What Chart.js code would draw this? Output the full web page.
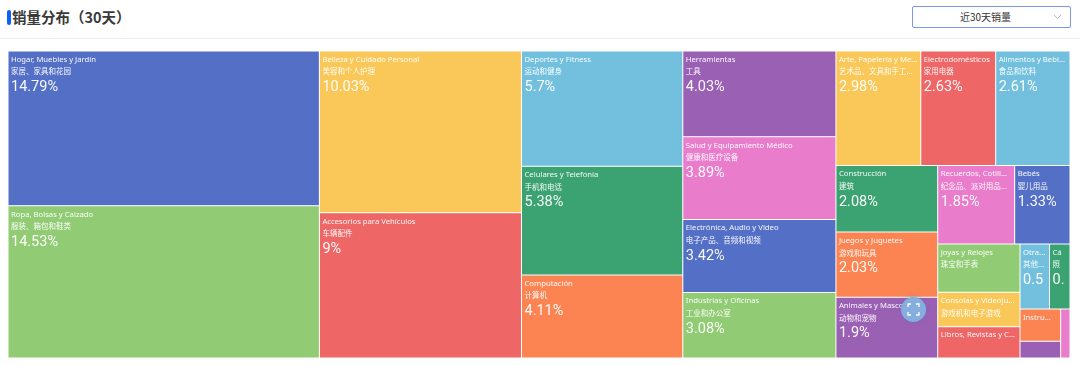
<!DOCTYPE html>
<html lang="zh">
<head>
    <meta charset="UTF-8">
    <title>销量分布</title>
    <script src="https://cdn.jsdelivr.net/npm/chart.js"></script>
    <style>
        body {
            margin: 0;
            background: #fff;
            font-family: 'Noto Sans CJK SC', sans-serif;
            width: 1080px;
            height: 365px;
            overflow: hidden;
            position: relative;
        }
        .mark { position: absolute; left: 7px; top: 10px; width: 4px; height: 15px; background: #0b5fff; border-radius: 2px; }
        .title { position: absolute; left: 12px; top: 6px; font-size: 14.5px; line-height: 22px; font-weight: 700; color: #3a3a3a; }
        .line { position: absolute; left: 0; top: 38px; width: 1080px; height: 1px; background: #eeeeee; }
        .select {
            position: absolute; left: 912px; top: 6px; width: 157px; height: 20px;
            border: 1px solid #7b97e6; border-radius: 2px; text-align: center;
            font-size: 10px; line-height: 20px; color: #333; box-sizing: content-box;
        }
        .select span { position: relative; left: -6px; }
        .select svg { position: absolute; right: 8px; top: 7px; }
        .wrap { position: absolute; left: 8px; top: 51px; width: 1062px; height: 307px; }
        .fullscreen {
            position: absolute; left: 901px; top: 297px; width: 25px; height: 25px;
            border-radius: 50%; background: #85aedf; box-shadow: 0 0 4px rgba(80, 120, 200, .45);
        }
    </style>
</head>
<body>
<div class="mark"></div>
<div class="title">销量分布（30天）</div>
<div class="line"></div>
<div class="select"><span>近30天销量</span>
    <svg width="9" height="6" viewBox="0 0 9 6"><path d="M1 1l3.5 3.5L8 1" fill="none" stroke="#bbb" stroke-width="1"/></svg>
</div>
<div class="wrap"><canvas id="treemap" width="1062" height="307"></canvas></div>
<div class="fullscreen">
    <svg width="25" height="25" viewBox="0 0 25 25" fill="none" stroke="#fff" stroke-width="1.3">
        <path d="M7 10V7h3M15 7h3v3M18 15v3h-3M10 18H7v-3"/>
    </svg>
</div>
<script>
    const categories = [
        'Hogar, Muebles y Jardín', 'Ropa, Bolsas y Calzado', 'Belleza y Cuidado Personal',
        'Accesorios para Vehículos', 'Deportes y Fitness', 'Celulares y Telefonía', 'Computación',
        'Herramientas', 'Salud y Equipamiento Médico', 'Electrónica, Audio y Video',
        'Industrias y Oficinas', 'Arte, Papelería y Mercería', 'Electrodomésticos',
        'Alimentos y Bebidas', 'Construcción', 'Juegos y Juguetes', 'Animales y Mascotas',
        'Recuerdos, Cotillón y Fiestas', 'Bebés', 'Joyas y Relojes', 'Consolas y Videojuegos',
        'Libros, Revistas y Comics', 'Otras categorías', 'Cámaras y Fotografía',
        'Instrumentos Musicales', '', ''
    ];
    const categoriesZh = [
        '家居、家具和花园', '服装、箱包和鞋类', '美容和个人护理', '车辆配件', '运动和健身', '手机和电话', '计算机',
        '工具', '健康和医疗设备', '电子产品、音频和视频', '工业和办公室', '艺术品、文具和手工艺品', '家用电器',
        '食品和饮料', '建筑', '游戏和玩具', '动物和宠物', '纪念品、派对用品和节庆', '婴儿用品', '珠宝和手表',
        '游戏机和电子游戏', '书籍和杂志', '其他类别', '照相机和摄影', '乐器', '', ''
    ];
    const shares = [
        14.79, 14.53, 10.03, 9, 5.7, 5.38, 4.11, 4.03, 3.89, 3.42, 3.08, 2.98, 2.63, 2.61,
        2.08, 2.03, 1.9, 1.85, 1.33, 1.22, 0.87, 0.79, 0.59, 0.41, 0.40, 0.21, 0.14
    ];
    const palette = ['#5470c6', '#91cc75', '#fac858', '#ee6666', '#73c0de', '#3ba272', '#fc8452', '#9a60b4', '#ea7ccc'];

    // squarified layout, works in chart area units, values are already sorted big to small
    function squarify(values, width, height) {
        const total = values.reduce((a, b) => a + b, 0);
        const rect = {x: 0, y: 0, w: width, h: height};
        const unit = width * height / total;
        const ratio = 0.5 * (1 + Math.sqrt(5));
        const cells = [];
        let row = [];
        let best = Infinity;
        let i = 0;

        function worst(items, side) {
            const sum = items.reduce((a, b) => a + b.area, 0);
            const areas = items.map(d => d.area);
            const f = side * side * ratio;
            return Math.max(f * Math.max(...areas) / (sum * sum), sum * sum / (f * Math.min(...areas)));
        }

        function placeRow(items) {
            const sum = items.reduce((a, b) => a + b.area, 0);
            const alongX = rect.w < rect.h;
            const thick = sum / (alongX ? rect.w : rect.h);
            let pos = alongX ? rect.x : rect.y;
            items.forEach(d => {
                const len = d.area / thick;
                cells[d.index] = alongX
                    ? {x: pos, y: rect.y, w: len, h: thick}
                    : {x: rect.x, y: pos, w: thick, h: len};
                pos += len;
            });
            if (alongX) { rect.y += thick; rect.h -= thick; } else { rect.x += thick; rect.w -= thick; }
        }

        while (i < values.length) {
            const side = Math.min(rect.w, rect.h);
            row.push({index: i, area: values[i] * unit});
            const score = worst(row, side);
            if (score <= best) {
                best = score;
                i++;
            } else {
                row.pop();
                placeRow(row);
                row = [];
                best = Infinity;
            }
        }
        if (row.length) placeRow(row);
        return cells;
    }

    // there is no treemap type in Chart.js core, so a small controller on top of bar elements
    class TreemapController extends Chart.DatasetController {
        update(mode) {
            const meta = this._cachedMeta;
            this.updateElements(meta.data, 0, meta.data.length, mode);
        }

        updateElements(bars, start, count, mode) {
            const xScale = this._cachedMeta.xScale;
            const yScale = this._cachedMeta.yScale;
            const cells = squarify(this.getDataset().data, xScale.width, yScale.height);
            for (let i = start; i < start + count; i++) {
                const c = cells[i];
                const left = xScale.getPixelForValue(c.x / xScale.width);
                const right = xScale.getPixelForValue((c.x + c.w) / xScale.width);
                const top = yScale.getPixelForValue(c.y / yScale.height);
                const bottom = yScale.getPixelForValue((c.y + c.h) / yScale.height);
                bars[i].borderSkipped = {};
                this.updateElement(bars[i], i, {
                    x: (left + right) / 2,
                    y: top,
                    base: bottom,
                    width: right - left,
                    height: bottom - top,
                    horizontal: false,
                    inflateAmount: 0,
                    options: this.resolveDataElementOptions(i, mode)
                }, mode);
            }
        }
    }
    TreemapController.id = 'treemap';
    TreemapController.defaults = {dataElementType: 'bar'};
    Chart.register(TreemapController);

    // cut text to the cell width, no "..." when there is no room for it
    function fitText(ctx, text, width) {
        if (ctx.measureText(text).width <= width) return text;
        const dots = ctx.measureText('...').width;
        const asc = ctx.measureText('a').width;
        const useDots = width - dots >= asc * 3;
        const room = useDots ? width - dots : width;
        let out = text;
        while (out.length && ctx.measureText(out).width > room) out = out.slice(0, -1);
        return useDots ? out + '...' : out;
    }

    const labelPlugin = {
        id: 'cellLabels',
        afterDatasetsDraw(chart) {
            const ctx = chart.ctx;
            chart.getDatasetMeta(0).data.forEach((bar, i) => {
                const w = bar.width;
                const h = bar.height;
                if (w < 20 || h < 20) return;
                const left = bar.x - w / 2;
                const avail = w - 6;
                ctx.save();
                ctx.beginPath();
                ctx.rect(left, bar.y, w, h);
                ctx.clip();
                ctx.fillStyle = 'rgba(255, 255, 255, 0.95)';
                ctx.textBaseline = 'middle';
                ctx.font = "7.7px 'Noto Sans', sans-serif";
                ctx.fillText(fitText(ctx, categories[i], avail), left + 3, bar.y + 8.6);
                if (h >= 33) {
                    ctx.font = "7.5px 'Noto Sans CJK SC', sans-serif";
                    ctx.fillText(fitText(ctx, categoriesZh[i], avail), left + 3, bar.y + 20.6);
                }
                if (h >= 52) {
                    ctx.font = "14.5px Roboto, sans-serif";
                    ctx.fillText(fitText(ctx, shares[i] + '%', avail), left + 3, bar.y + 36.5);
                }
                ctx.restore();
            });
        }
    };

    new Chart(document.getElementById('treemap'), {
        type: 'treemap',
        data: {
            labels: categories,
            datasets: [{
                data: shares,
                backgroundColor: categories.map((c, i) => palette[i % palette.length]),
                borderColor: 'rgba(255, 255, 255, 0.7)',
                borderWidth: 0.5,
                borderSkipped: false
            }]
        },
        options: {
            responsive: false,
            animation: false,
            layout: {padding: 0},
            plugins: {legend: {display: false}, tooltip: {enabled: false}},
            scales: {
                x: {type: 'linear', min: 0, max: 1, display: false},
                y: {type: 'linear', min: 0, max: 1, reverse: true, display: false}
            }
        },
        plugins: [labelPlugin]
    });
</script>
</body>
</html>
